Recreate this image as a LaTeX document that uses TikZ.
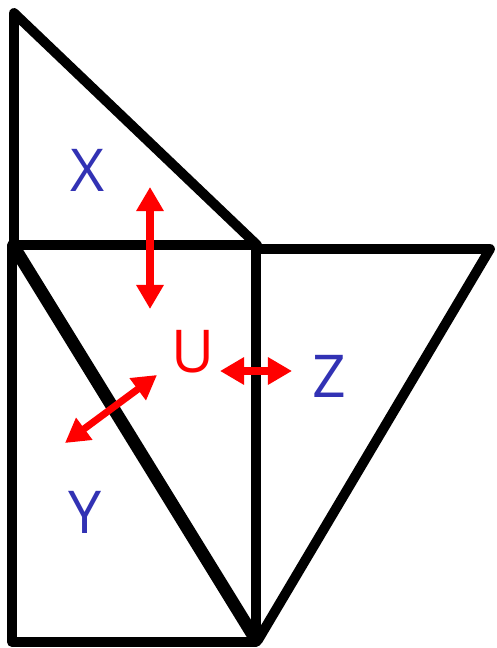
\documentclass[tikz,border=0pt]{standalone}
\usepackage{fontspec}
\setmainfont{Open Sans}
\usetikzlibrary{arrows.meta}

\definecolor{labelblue}{RGB}{50,50,180}

\tikzset{
    frame/.style={line width=7pt, line join=round, line cap=round},
    cut/.style={line width=9pt, line cap=round},
    move/.style={red, line width=5pt, {Triangle[width=0.65cm,length=0.6cm]}-{Triangle[width=0.65cm,length=0.6cm]}},
    piece/.style={text=labelblue, font=\fontsize{42}{50}\selectfont, inner sep=0pt},
    centre/.style={text=red, font=\fontsize{42}{50}\selectfont, inner sep=0pt}
}

\begin{document}
\begin{tikzpicture}[x=0.025cm, y=-0.025cm]

\useasboundingbox (0,0) rectangle (496,648);

% Triangle du haut
\draw[frame] (14,13) -- (14,245) -- (257,245) -- cycle;

% Rectangle
\draw[frame] (12,245) rectangle (256,642);
\draw[cut] (14,247) -- (256,640);

% Triangle de droite
\draw[frame] (256,249) -- (490,249) -- (258,640);

% Lettres
\node[piece] (X) at (88,170) {X};
\node[piece] (Y) at (85,512) {Y};
\node[piece] (Z) at (329,376) {Z};
\node[centre] (U) at (193,352) {U};

% Fleches
\coordinate (up) at (150,187);
\coordinate (down) at (150,309);
\coordinate (left) at (220,371);
\coordinate (right) at (292,371);
\coordinate (ne) at (157,375);
\coordinate (sw) at (65,443);

\draw[move] (up) -- (down);
\draw[move] (left) -- (right);
\draw[move] (ne) -- (sw);

\end{tikzpicture}
\end{document}
